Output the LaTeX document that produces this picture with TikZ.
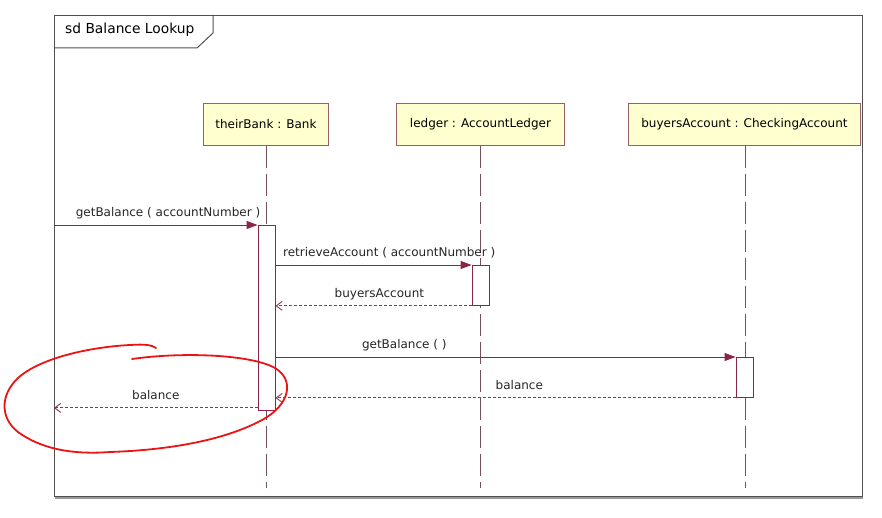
\documentclass[tikz,border=0pt]{standalone}
\usepackage{fontspec}
\setmainfont{DejaVu Sans}
\usetikzlibrary{arrows.meta,calc}

\definecolor{msgcol}{RGB}{140,35,75}
\definecolor{boxedge}{RGB}{150,95,105}
\definecolor{boxfill}{RGB}{255,255,208}
\definecolor{lifecol}{RGB}{115,80,92}
\definecolor{framecol}{RGB}{80,80,80}
\definecolor{inkred}{RGB}{235,20,20}

\tikzset{
  objbox/.style={draw=boxedge, fill=boxfill, line width=0.9pt, minimum height=42pt,
                 font=\fontsize{12}{14}\selectfont, inner sep=0pt},
  lifeline/.style={draw=lifecol, line width=0.8pt, dash pattern=on 22pt off 6pt},
  actbar/.style={draw=msgcol, fill=white, line width=0.9pt, minimum width=17pt, inner sep=0pt},
  callmsg/.style={draw=msgcol, line width=0.9pt, -{Triangle[length=11pt,width=8pt]}},
  replymsg/.style={draw=msgcol!80!gray, line width=0.9pt, dash pattern=on 2.5pt off 2.5pt,
                   -{Straight Barb[length=6pt,width=9pt]}},
  msglabel/.style={font=\fontsize{12}{14}\selectfont, text=black!85, anchor=south,
                   inner sep=2pt, text height=9pt, text depth=3pt, yshift=3pt},
}

\begin{document}
\begin{tikzpicture}[x=1pt,y=-1pt]
  \useasboundingbox[fill=white] (0,0) rectangle (882,518);

  % diagram frame with its name tab
  \fill[black!40] (55,496) rectangle (863,498.5);
  \node[draw=framecol, line width=1pt, anchor=north west, minimum width=808pt,
        minimum height=481pt, inner sep=0pt] (frame) at (54,15) {};
  \draw[framecol, line width=1pt] (54,48) -- (197,48) -- (213,33) -- (213,15);
  \node[anchor=west, font=\fontsize{13.8}{15}\selectfont, inner sep=0pt] (title) at (65,30) {sd Balance Lookup};

  % participants
  \node[objbox, minimum width=125pt, anchor=north west] (bank) at (203,103) {theirBank : Bank};
  \node[objbox, minimum width=168pt, anchor=north west] (ledger) at (396,103) {ledger : AccountLedger};
  \node[objbox, minimum width=232pt, anchor=north west] (acct) at (628,103) {buyersAccount : CheckingAccount};

  % lifeline ends
  \coordinate (bankend) at (266,488);
  \coordinate (ledgerend) at (480,488);
  \coordinate (acctend) at (745,488);
  \draw[lifeline] (bank.south -| bankend) -- (bankend);
  \draw[lifeline] (ledger.south -| ledgerend) -- (ledgerend);
  \draw[lifeline] (acct.south -| acctend) -- (acctend);

  % activation bars
  \node[actbar, minimum height=185pt, anchor=north] (act1) at (266.5,225) {};
  \node[actbar, minimum height=40pt, anchor=north] (act2) at (480.5,265) {};
  \node[actbar, minimum height=40pt, anchor=north] (act3) at (744.5,357) {};

  % gate points on the frame
  \coordinate (gatein) at (frame.west |- act1.north);
  \coordinate (gateout) at ($(frame.west |- act1.south)+(0,-3)$);

  % messages
  \draw[callmsg] (gatein) -- node[msglabel, pos=0.56] (l1) {getBalance ( accountNumber )} (act1.north west);
  \draw[callmsg] (act1.east |- act2.north) -- node[msglabel, pos=0.58] (l2) {retrieveAccount ( accountNumber )} (act2.north west);
  \draw[replymsg] (act2.south west) -- node[msglabel, pos=0.47] (l3) {buyersAccount} (act1.east |- act2.south);
  \draw[callmsg] (act1.east |- act3.north) -- node[msglabel, pos=0.28] (l4) {getBalance ( )} (act3.north west);
  \draw[replymsg] (act3.south west) -- node[msglabel, pos=0.47] (l5) {balance} (act1.east |- act3.south);
  \draw[replymsg] ($(act1.south west)+(0,-3)$) -- node[msglabel, pos=0.5] (l6) {balance} (gateout);

  % hand-drawn red ring
  \draw[inkred, line width=1.8pt, line cap=round, line join=round]
    (132,359) .. controls (180,352) and (250,354) .. (275,368)
    .. controls (295,380) and (290,405) .. (262,420)
    .. controls (225,440) and (170,450) .. (110,452)
    .. controls (70,455) and (40,448) .. (18,432)
    .. controls (0,418) and (0,395) .. (18,378)
    .. controls (40,358) and (90,347) .. (130,345)
    .. controls (145,344) and (152,345) .. (156,348);
\end{tikzpicture}
\end{document}
